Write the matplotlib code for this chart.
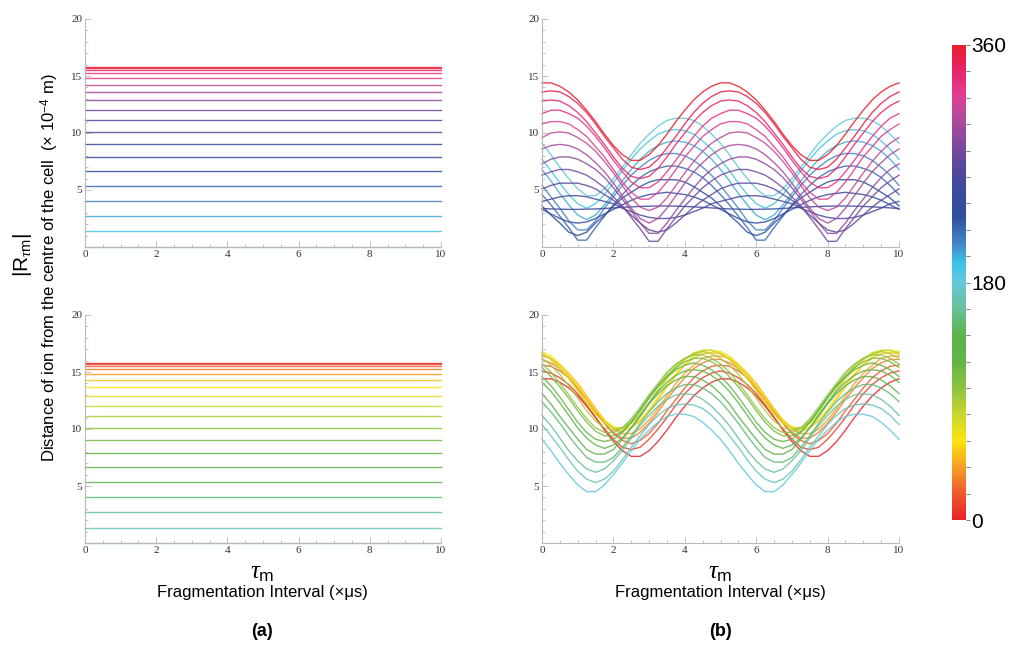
import matplotlib
matplotlib.use('Agg')
import matplotlib.pyplot as plt
import numpy as np
from matplotlib.colors import LinearSegmentedColormap
from matplotlib.ticker import MultipleLocator

plt.rcParams['mathtext.fontset'] = 'custom'
plt.rcParams['mathtext.rm'] = 'Liberation Sans'
plt.rcParams['mathtext.it'] = 'Liberation Serif:italic'

# fragment angle (degrees) for each curve
angles_top = list(range(180, 361, 10))
angles_bottom = list(range(0, 181, 10))

# panel (a): distance stays constant over the interval
dist_top = [0, 1.4, 2.7, 4.0, 5.35, 6.65, 7.9, 9.0, 10.1, 11.1,
            12.0, 12.9, 13.6, 14.25, 14.8, 15.25, 15.5, 15.7, 15.8]
dist_bottom = [15.8, 15.7, 15.5, 15.25, 14.85, 14.3, 13.65, 12.9, 12.05, 11.1,
               10.1, 9.05, 7.9, 6.65, 5.35, 4.0, 2.7, 1.35, 0]
tau_ends = [0, 10]

# panel (b): readings over one 5 us cycle, every 0.25 us; the picture repeats it up to 10
b000 = [14.4, 14.4, 14.1, 13.6, 12.9, 12.0, 11.0, 9.9, 8.9, 8.1, 7.6, 7.6, 8.1, 8.9, 9.9, 11.0, 12.0, 12.9, 13.6, 14.1]
b010 = [15.1, 14.9, 14.5, 13.9, 13.1, 12.1, 11.0, 10.0, 9.1, 8.4, 8.2, 8.4, 9.1, 10.0, 11.0, 12.1, 13.1, 13.9, 14.5, 14.9]
b020 = [15.6, 15.5, 15.1, 14.5, 13.6, 12.6, 11.6, 10.5, 9.6, 9.0, 8.7, 9.0, 9.6, 10.5, 11.6, 12.6, 13.6, 14.5, 15.1, 15.5]
b030 = [16.1, 15.8, 15.3, 14.5, 13.6, 12.6, 11.5, 10.5, 9.7, 9.2, 9.2, 9.7, 10.5, 11.5, 12.6, 13.6, 14.5, 15.3, 15.8, 16.1]
b040 = [16.4, 16.2, 15.6, 14.9, 14.0, 12.9, 11.8, 10.8, 10.0, 9.6, 9.6, 10.0, 10.8, 11.8, 12.9, 14.0, 14.9, 15.6, 16.2, 16.4]
b050 = [16.6, 16.2, 15.6, 14.7, 13.7, 12.6, 11.6, 10.7, 10.1, 9.8, 10.1, 10.7, 11.6, 12.6, 13.7, 14.7, 15.6, 16.2, 16.6, 16.7]
b060 = [16.8, 16.4, 15.7, 14.9, 13.9, 12.8, 11.7, 10.8, 10.2, 10.0, 10.2, 10.8, 11.7, 12.8, 13.9, 14.9, 15.7, 16.4, 16.8, 16.9]
b070 = [16.7, 16.1, 15.4, 14.5, 13.4, 12.3, 11.3, 10.5, 10.1, 10.1, 10.5, 11.3, 12.3, 13.4, 14.5, 15.4, 16.1, 16.7, 16.9, 16.9]
b080 = [16.6, 16.1, 15.3, 14.4, 13.4, 12.3, 11.3, 10.5, 10.1, 10.1, 10.5, 11.3, 12.3, 13.4, 14.4, 15.3, 16.1, 16.6, 16.9, 16.9]
b090 = [16.2, 15.6, 14.8, 13.8, 12.7, 11.6, 10.7, 10.1, 9.9, 10.1, 10.7, 11.6, 12.7, 13.8, 14.8, 15.6, 16.2, 16.6, 16.8, 16.6]
b100 = [15.7, 15.0, 14.0, 13.0, 11.9, 10.9, 10.1, 9.7, 9.7, 10.1, 10.9, 11.9, 13.0, 14.0, 15.0, 15.7, 16.2, 16.5, 16.5, 16.2]
b110 = [15.4, 14.6, 13.7, 12.7, 11.6, 10.6, 9.8, 9.4, 9.4, 9.8, 10.6, 11.6, 12.7, 13.7, 14.6, 15.4, 15.9, 16.2, 16.2, 15.9]
b120 = [14.6, 13.8, 12.8, 11.7, 10.6, 9.7, 9.1, 8.9, 9.1, 9.7, 10.6, 11.7, 12.8, 13.8, 14.6, 15.2, 15.6, 15.8, 15.6, 15.2]
b130 = [14.1, 13.3, 12.3, 11.2, 10.1, 9.2, 8.6, 8.3, 8.6, 9.2, 10.1, 11.2, 12.3, 13.3, 14.1, 14.7, 15.1, 15.2, 15.1, 14.7]
b140 = [13.1, 12.2, 11.1, 10.1, 9.1, 8.2, 7.8, 7.8, 8.2, 9.1, 10.1, 11.1, 12.2, 13.1, 13.8, 14.3, 14.6, 14.6, 14.3, 13.8]
b150 = [12.4, 11.5, 10.5, 9.4, 8.4, 7.5, 7.1, 7.1, 7.5, 8.4, 9.4, 10.5, 11.5, 12.4, 13.1, 13.6, 13.9, 13.9, 13.6, 13.1]
b160 = [11.2, 10.3, 9.2, 8.1, 7.2, 6.5, 6.2, 6.5, 7.2, 8.1, 9.2, 10.3, 11.2, 12.0, 12.6, 13.0, 13.1, 13.0, 12.6, 12.0]
b170 = [10.4, 9.4, 8.4, 7.3, 6.3, 5.6, 5.3, 5.6, 6.3, 7.3, 8.4, 9.4, 10.4, 11.2, 11.8, 12.1, 12.2, 12.1, 11.8, 11.2]
b180 = [9.1, 8.1, 7.0, 6.0, 5.1, 4.5, 4.5, 5.1, 6.0, 7.0, 8.1, 9.1, 9.9, 10.6, 11.1, 11.3, 11.3, 11.1, 10.6, 9.9]

t180 = [9.1, 8.1, 7.0, 6.0, 5.1, 4.5, 4.5, 5.1, 6.0, 7.0, 8.1, 9.1, 9.9, 10.6, 11.1, 11.3, 11.3, 11.1, 10.6, 9.9]
t190 = [7.7, 6.7, 5.6, 4.6, 3.8, 3.4, 3.8, 4.6, 5.6, 6.7, 7.7, 8.6, 9.3, 9.9, 10.2, 10.3, 10.2, 9.9, 9.3, 8.6]
t200 = [6.8, 5.8, 4.7, 3.7, 2.8, 2.4, 2.8, 3.7, 4.7, 5.8, 6.8, 7.7, 8.4, 8.9, 9.2, 9.3, 9.2, 8.9, 8.4, 7.7]
t210 = [5.4, 4.4, 3.4, 2.3, 1.5, 1.5, 2.3, 3.4, 4.4, 5.4, 6.3, 7.0, 7.6, 8.0, 8.2, 8.2, 8.0, 7.6, 7.0, 6.3]
t220 = [4.6, 3.7, 2.7, 1.7, 0.6, 0.6, 1.7, 2.7, 3.7, 4.6, 5.4, 6.1, 6.6, 6.9, 7.1, 7.1, 6.9, 6.6, 6.1, 5.4]
t230 = [3.6, 2.8, 2.1, 1.3, 1.0, 1.3, 2.1, 2.8, 3.6, 4.3, 4.8, 5.3, 5.7, 5.9, 5.9, 5.9, 5.7, 5.3, 4.8, 4.3]
t240 = [3.3, 2.9, 2.5, 2.2, 2.1, 2.2, 2.5, 2.9, 3.3, 3.7, 4.1, 4.4, 4.6, 4.7, 4.8, 4.7, 4.6, 4.4, 4.1, 3.7]
t250 = [3.38, 3.34, 3.32, 3.3, 3.3, 3.32, 3.34, 3.38, 3.43, 3.48, 3.52, 3.56, 3.58, 3.6, 3.6, 3.58, 3.56, 3.52, 3.48, 3.43]
t260 = [4.0, 4.2, 4.4, 4.5, 4.5, 4.4, 4.2, 4.0, 3.8, 3.4, 3.1, 2.8, 2.6, 2.5, 2.5, 2.6, 2.8, 3.1, 3.4, 3.8]
t270 = [5.1, 5.4, 5.6, 5.6, 5.6, 5.4, 5.1, 4.6, 4.1, 3.5, 2.8, 2.1, 1.5, 1.3, 1.5, 2.1, 2.8, 3.5, 4.1, 4.6]
t280 = [6.3, 6.6, 6.8, 6.8, 6.6, 6.3, 5.8, 5.2, 4.4, 3.6, 2.6, 1.6, 0.5, 0.5, 1.6, 2.6, 3.6, 4.4, 5.2, 5.8]
t290 = [7.3, 7.7, 7.9, 7.9, 7.7, 7.3, 6.8, 6.1, 5.2, 4.2, 3.2, 2.1, 1.2, 1.2, 2.1, 3.2, 4.2, 5.2, 6.1, 6.8]
t300 = [8.6, 8.9, 9.0, 8.9, 8.6, 8.1, 7.4, 6.6, 5.6, 4.5, 3.4, 2.5, 2.1, 2.5, 3.4, 4.5, 5.6, 6.6, 7.4, 8.1]
t310 = [9.6, 10.0, 10.1, 10.0, 9.6, 9.1, 8.4, 7.5, 6.5, 5.4, 4.3, 3.5, 3.2, 3.5, 4.3, 5.4, 6.5, 7.5, 8.4, 9.1]
t320 = [10.8, 11.0, 11.0, 10.8, 10.3, 9.7, 8.8, 7.9, 6.8, 5.7, 4.8, 4.2, 4.2, 4.8, 5.7, 6.8, 7.9, 8.8, 9.7, 10.3]
t330 = [11.7, 12.0, 12.0, 11.7, 11.3, 10.6, 9.7, 8.7, 7.6, 6.6, 5.7, 5.2, 5.2, 5.7, 6.6, 7.6, 8.7, 9.7, 10.6, 11.3]
t340 = [12.8, 12.9, 12.8, 12.4, 11.8, 11.0, 10.0, 9.0, 7.9, 6.9, 6.2, 6.0, 6.2, 6.9, 7.9, 9.0, 10.0, 11.0, 11.8, 12.4]
t350 = [13.6, 13.7, 13.6, 13.2, 12.6, 11.8, 10.8, 9.7, 8.7, 7.7, 7.0, 6.8, 7.0, 7.7, 8.7, 9.7, 10.8, 11.8, 12.6, 13.2]
t360 = [14.4, 14.4, 14.1, 13.6, 12.9, 12.0, 11.0, 9.9, 8.9, 8.1, 7.6, 7.6, 8.1, 8.9, 9.9, 11.0, 12.0, 12.9, 13.6, 14.1]

curves_bottom = [b000, b010, b020, b030, b040, b050, b060, b070, b080, b090,
                 b100, b110, b120, b130, b140, b150, b160, b170, b180]
curves_top = [t180, t190, t200, t210, t220, t230, t240, t250, t260, t270,
              t280, t290, t300, t310, t320, t330, t340, t350, t360]
tau_step = 0.25

# colour scale of the angle bar
cbar_stops = [0, 20, 40, 60, 80, 100, 120, 140, 160, 180, 195, 210,
              230, 250, 270, 290, 310, 325, 345, 360]
cbar_colors = ['#e8242a', '#ef5a2a', '#f5a023', '#fde50f', '#c8d630', '#8cc43e',
               '#62b446', '#5cb44c', '#68c09a', '#66c8dc', '#3cc2e6', '#4484c4',
               '#2f4f9e', '#3a4a9c', '#5a479c', '#8c4a9c', '#c0489a', '#e6388c',
               '#e82060', '#e8202a']
cmap = LinearSegmentedColormap.from_list(
    'angle', [(s / 360, c) for s, c in zip(cbar_stops, cbar_colors)])

W, H = 1015, 652
fig = plt.figure(figsize=(W / 100, H / 100), dpi=100)


def px_axes(x0, y0, x1, y1):
    return fig.add_axes([x0 / W, 1 - y1 / H, (x1 - x0) / W, (y1 - y0) / H])


def style(ax):
    ax.set_xlim(0, 10)
    ax.set_ylim(0, 20)
    for s in ['top', 'right']:
        ax.spines[s].set_visible(False)
    for s in ['left', 'bottom']:
        ax.spines[s].set_color('#b8b8b8')
        ax.spines[s].set_linewidth(0.8)
    ax.xaxis.set_major_locator(MultipleLocator(2))
    ax.xaxis.set_minor_locator(MultipleLocator(0.5))
    ax.yaxis.set_minor_locator(MultipleLocator(1))
    ax.set_yticks([5, 10, 15, 20])
    ax.tick_params(which='both', direction='in', color='#b8b8b8', width=0.6,
                   labelsize=8, labelcolor='#333333', pad=2)
    ax.tick_params(which='major', length=4)
    ax.tick_params(which='minor', length=2)
    for lab in ax.get_xticklabels() + ax.get_yticklabels():
        lab.set_family('Liberation Serif')
    ax.patch.set_alpha(0)


ax_tl = px_axes(85, 19, 441, 247)
ax_bl = px_axes(85, 315, 441, 543)
ax_tr = px_axes(542, 19, 899, 247)
ax_br = px_axes(542, 315, 899, 543)

for ang, d in zip(angles_top, dist_top):
    ax_tl.plot(tau_ends, [d, d], color=cmap(ang / 360), lw=1.0, alpha=0.85, clip_on=False)
for ang, d in zip(angles_bottom, dist_bottom):
    ax_bl.plot(tau_ends, [d, d], color=cmap(ang / 360), lw=1.0, alpha=0.85, clip_on=False)

for ax, angs, curves in [(ax_tr, angles_top, curves_top), (ax_br, angles_bottom, curves_bottom)]:
    for ang, vals in zip(angs, curves):
        y = vals + vals + vals[:1]
        x = np.arange(len(y)) * tau_step
        ax.plot(x, y, color=cmap(ang / 360), lw=1.0, alpha=0.85, clip_on=False)

for ax in [ax_tl, ax_bl, ax_tr, ax_br]:
    style(ax)

# colour bar
cax = px_axes(952, 45, 966, 520)
sm = plt.cm.ScalarMappable(cmap=cmap, norm=plt.Normalize(0, 360))
cb = fig.colorbar(sm, cax=cax)
cb.outline.set_visible(False)
cb.set_ticks([0, 180, 360])
cb.ax.yaxis.set_minor_locator(MultipleLocator(20))
cb.ax.tick_params(which='both', length=3, width=0.6, color='#666666', labelsize=15, pad=1)
for lab in cb.ax.get_yticklabels():
    lab.set_family('Liberation Sans')

# axis titles
fig.text(22 / W, 1 - 255 / H, r'|R$_{\tau\mathrm{m}}$|', rotation=90, ha='center', va='center',
         fontsize=15, family='Liberation Sans')
fig.text(50 / W, 1 - 268 / H, r'Distance of ion from the centre of the cell  (× 10$^{-4}$ m)',
         rotation=90, ha='center', va='center', fontsize=12, family='Liberation Sans')
for cx in [262, 720]:
    fig.text(cx / W, 1 - 572 / H, r'$\tau_{\mathrm{m}}$', ha='center', va='center', fontsize=18)
    fig.text(cx / W, 1 - 592 / H, 'Fragmentation Interval (×μs)', ha='center', va='center',
             fontsize=12, family='Liberation Sans')
fig.text(262 / W, 1 - 632 / H, '(a)', ha='center', va='center', fontsize=13,
         fontweight='bold', family='Liberation Sans')
fig.text(720 / W, 1 - 632 / H, '(b)', ha='center', va='center', fontsize=13,
         fontweight='bold', family='Liberation Sans')

fig.savefig('out.png', dpi=100)
